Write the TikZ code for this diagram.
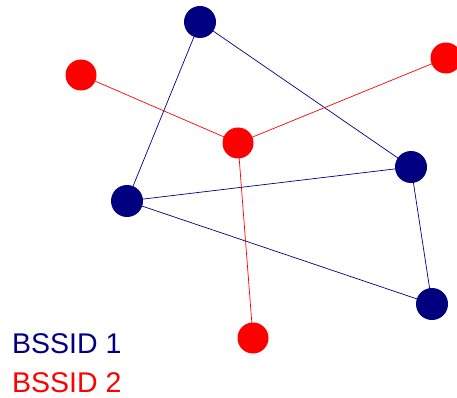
\documentclass[tikz,border=0pt]{standalone}
\usepackage{fontspec}
\setmainfont{Liberation Sans}
\definecolor{netblue}{RGB}{0,0,128}
\definecolor{netred}{RGB}{255,0,0}
\begin{document}
\begin{tikzpicture}[x=1pt,y=-1pt,
  apB/.style={circle,fill=netblue,minimum size=32pt,inner sep=0pt},
  apR/.style={circle,fill=netred,minimum size=31pt,inner sep=0pt},
  linkB/.style={netblue,line width=0.7pt},
  linkR/.style={netred,line width=0.7pt},
  legend/.style={anchor=base west,inner sep=0pt,font=\fontsize{28.5}{32}\selectfont}]
\useasboundingbox (0,0) rectangle (457,398);
% positions of the access points
\coordinate (b1) at (200,22);
\coordinate (b2) at (127,201);
\coordinate (b3) at (411,167);
\coordinate (b4) at (432,304);
\coordinate (r1) at (81,75);
\coordinate (r2) at (238,143);
\coordinate (r3) at (446,58);
\coordinate (r4) at (253,338);
% links of the first network
\draw[linkB] (b1) -- (b2);
\draw[linkB] (b1) -- (b3);
\draw[linkB] (b2) -- (b3);
\draw[linkB] (b2) -- (b4);
\draw[linkB] (b3) -- (b4);
% links of the second network
\draw[linkR] (r1) -- (r2);
\draw[linkR] (r2) -- (r3);
\draw[linkR] (r2) -- (r4);
% access points
\node[apB] (nb1) at (b1) {};
\node[apB] (nb2) at (b2) {};
\node[apB] (nb3) at (b3) {};
\node[apB] (nb4) at (b4) {};
\node[apR] (nr1) at (r1) {};
\node[apR] (nr2) at (r2) {};
\node[apR] (nr3) at (r3) {};
\node[apR] (nr4) at (r4) {};
% legend
\node[legend,text=netblue] (l1) at (12,353) {BSSID 1};
\node[legend,text=netred] (l2) at (12,392) {BSSID 2};
\end{tikzpicture}
\end{document}
